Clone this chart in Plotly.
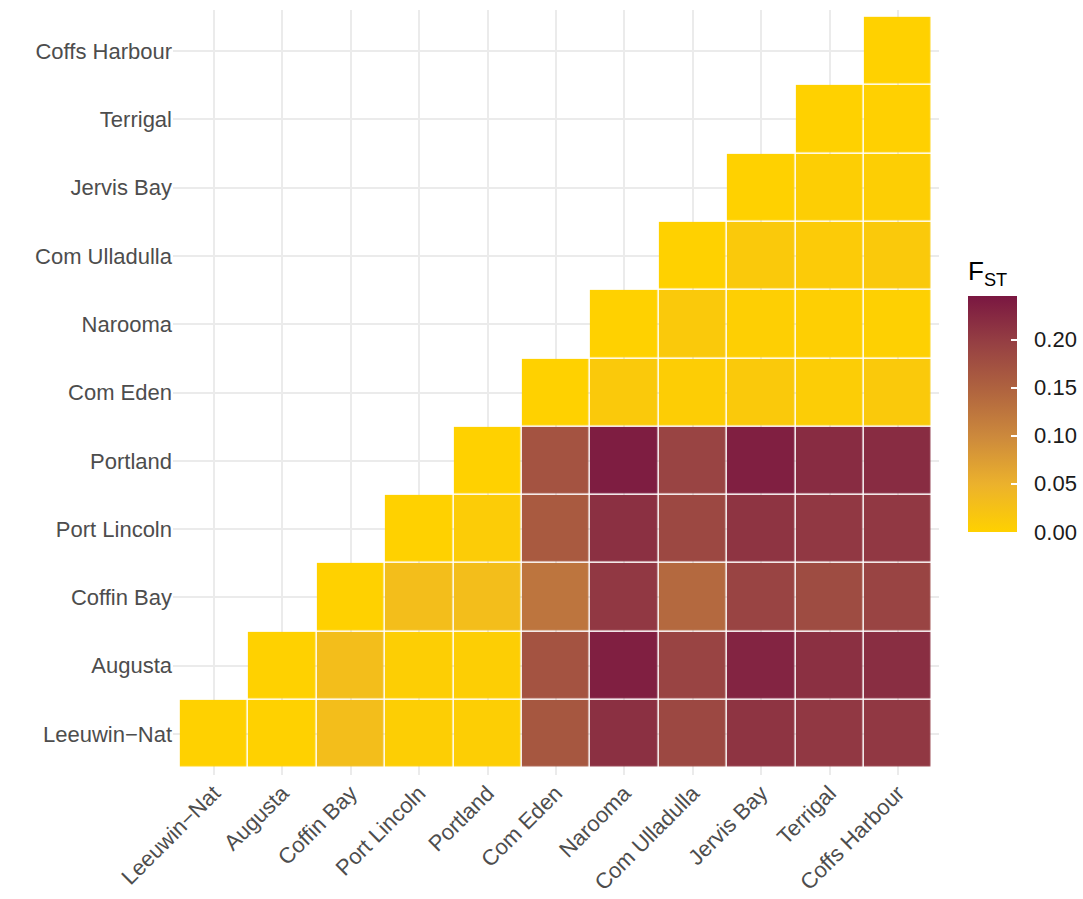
import plotly.graph_objects as go

# Sampling sites, west to east
sites = ["Leeuwin\u2212Nat", "Augusta", "Coffin Bay", "Port Lincoln", "Portland",
         "Com Eden", "Narooma", "Com Ulladulla", "Jervis Bay", "Terrigal", "Coffs Harbour"]

# Pairwise FST, one list per row (row site vs. itself and every site further east)
fst_leeuwin = [0.0, 0.0, 0.030, 0.005, 0.005, 0.165, 0.215, 0.185, 0.210, 0.205, 0.205]
fst_augusta = [0.0, 0.030, 0.005, 0.005, 0.170, 0.235, 0.190, 0.230, 0.215, 0.218]
fst_coffin = [0.0, 0.030, 0.030, 0.125, 0.205, 0.140, 0.190, 0.180, 0.190]
fst_lincoln = [0.0, 0.008, 0.160, 0.215, 0.185, 0.210, 0.205, 0.205]
fst_portland = [0.0, 0.170, 0.238, 0.190, 0.235, 0.220, 0.220]
fst_eden = [0.0, 0.012, 0.006, 0.012, 0.007, 0.012]
fst_narooma = [0.0, 0.012, 0.003, 0.003, 0.002]
fst_ulladulla = [0.0, 0.012, 0.009, 0.012]
fst_jervis = [0.0, 0.004, 0.004]
fst_terrigal = [0.0, 0.001]
fst_coffs = [0.0]

# Colour bar ticks
bar_ticks = [0, 0.05, 0.10, 0.15, 0.20]
bar_labels = ["0.00", "0.05", "0.10", "0.15", "0.20"]

rows = [fst_leeuwin, fst_augusta, fst_coffin, fst_lincoln, fst_portland, fst_eden,
        fst_narooma, fst_ulladulla, fst_jervis, fst_terrigal, fst_coffs]

n = len(sites)
# Lower triangle only: blank cells west of the diagonal
z = [[None] * i + row for i, row in enumerate(rows)]

colorscale = [
    [0.0, "#FFD100"],
    [0.2, "#ECB22C"],
    [0.4, "#CD8A3C"],
    [0.6, "#B0643F"],
    [0.8, "#964043"],
    [1.0, "#7A1741"],
]

font_family = "Liberation Sans, Arial, sans-serif"
nbsp = "\u00a0\u00a0"

fig = go.Figure(go.Heatmap(
    x=sites, y=sites, z=z,
    zmin=0, zmax=0.245,
    colorscale=colorscale,
    xgap=1.5, ygap=1.5,
    hoverongaps=False,
    colorbar=dict(
        title=dict(text="F<sub>ST</sub>", side="top",
                   font=dict(size=26, color="#000000", family=font_family)),
        thicknessmode="pixels", thickness=49,
        lenmode="pixels", len=274,
        x=1.038, xanchor="left", xpad=0,
        y=0.676, yanchor="top", ypad=0,
        outlinewidth=0,
        tickvals=bar_ticks,
        ticktext=[nbsp + t for t in bar_labels],
        ticks="inside", ticklen=6, tickcolor="white", tickwidth=1.5,
        tickfont=dict(size=22, color="#1a1a1a", family=font_family),
    ),
))

fig.update_layout(
    width=1083, height=899,
    margin=dict(l=173, r=144, t=10, b=124, autoexpand=False),
    plot_bgcolor="white", paper_bgcolor="white",
    font=dict(family=font_family, size=22, color="#4D4D4D"),
)
fig.update_xaxes(
    range=[-0.6, n - 0.4], showgrid=True, gridcolor="#EBEBEB", gridwidth=2,
    tickangle=-45, zeroline=False, showline=False, ticks="", automargin=False,
    tickfont=dict(size=22, color="#4D4D4D"),
)
fig.update_yaxes(
    range=[-0.6, n - 0.4], showgrid=True, gridcolor="#EBEBEB", gridwidth=2,
    zeroline=False, showline=False, ticks="", automargin=False,
    tickfont=dict(size=22, color="#4D4D4D"),
)

fig.write_html("out.html")
